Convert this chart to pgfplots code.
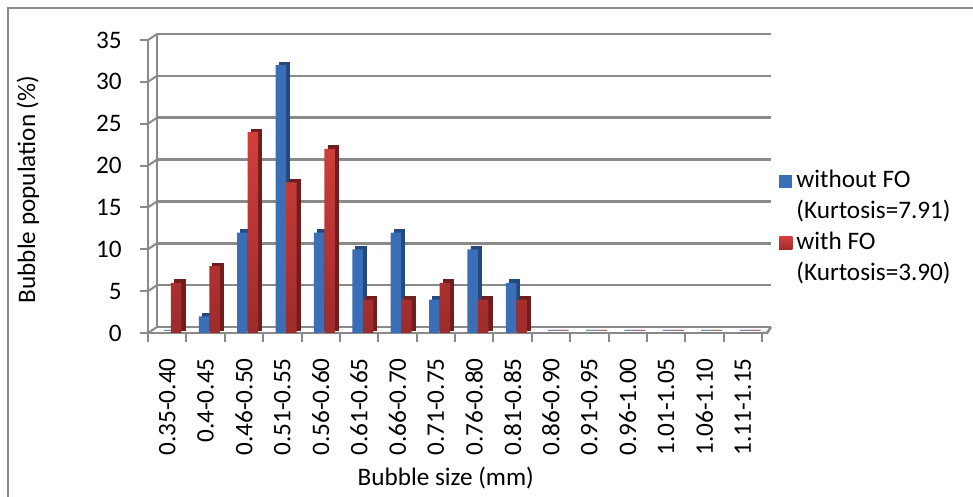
\documentclass[border=0pt]{standalone}
\usepackage{fontspec}
\setmainfont{Carlito}
\usepackage{pgfplots}
\usepackage{pgfplotstable}
\pgfplotsset{compat=1.18}

\definecolor{gridgray}{HTML}{8A8A8A}
\definecolor{blueF}{HTML}{3A6EB6}
\definecolor{blueD}{HTML}{23497D}
\definecolor{redT}{HTML}{D33F3B}
\definecolor{redB}{HTML}{9E2B2B}
\definecolor{redD}{HTML}{6F1D1D}

% bubble size distribution (%), per size class
\pgfplotstableread{
idx without with
0   0   6
1   2   8
2   12  24
3   32  18
4   12  22
5   10  4
6   12  4
7   4   6
8   10  4
9   6   4
10  0   0
11  0   0
12  0   0
13  0   0
14  0   0
15  0   0
}\bubbles

\newcommand{\lbl}{\fontsize{12.6}{15}\selectfont}

\pgfplotsset{
  sq legend/.style={legend image code/.code={\fill[##1] (0pt,-3.25pt) rectangle (6.5pt,3.25pt);}},
}

\begin{document}
\begin{tikzpicture}[x=1pt,y=1pt]
\useasboundingbox (0pt,0pt) rectangle (486.5pt,248.5pt);
\clip (0pt,0pt) rectangle (486.5pt,248.5pt);
% chart frame
\draw[gridgray, line width=0.75pt] (4pt,-10pt) -- (4pt,244.5pt) -- (500pt,244.5pt);
\begin{axis}[
  at={(74pt,82pt)}, anchor=south west,
  scale only axis, width=307pt, height=146.5pt,
  xmin=-0.5, xmax=15.5, ymin=0, ymax=35,
  clip=false,
  ybar, bar width=5.25pt,
  axis lines*=left,
  axis line style={gridgray, line width=1.25pt},
  tick align=outside,
  xtick={0,...,15},
  xticklabels={0.35-0.40,0.4-0.45,0.46-0.50,0.51-0.55,0.56-0.60,0.61-0.65,0.66-0.70,0.71-0.75,0.76-0.80,0.81-0.85,0.86-0.90,0.91-0.95,0.96-1.00,1.01-1.05,1.06-1.10,1.11-1.15},
  major x tick style={draw=none},
  minor xtick={-0.5,0.5,...,15.5},
  minor x tick style={draw=gridgray, line width=1pt},
  minor tick length=4.5pt,
  ytick={0,5,...,35},
  major y tick style={draw=gridgray, line width=1pt},
  major tick length=4pt,
  ymajorgrids,
  major grid style={gridgray, line width=1.35pt, xshift=4.5pt, yshift=3pt},
  /pgf/number format/assume math mode=true,
  xticklabel style={font=\lbl, rotate=90, anchor=east, inner sep=0pt},
  xticklabel shift=8.5pt,
  yticklabel style={font=\lbl, anchor=east, inner sep=0pt},
  yticklabel shift=9pt,
  xlabel={Bubble size (mm)},
  xlabel style={font=\lbl, at={(rel axis cs:0.485,-0.519)}, anchor=base, inner sep=0pt},
  ylabel={Bubble population (\%)},
  ylabel style={font=\lbl, at={(rel axis cs:-0.1954,0.49)}, anchor=center, inner sep=0pt},
  legend style={at={(rel axis cs:1.0277,0.573)}, anchor=north west,
    draw=none, fill=none, inner sep=0pt, row sep=0pt, font=\lbl,
    nodes={inner xsep=2pt, inner ysep=1.75pt, text height=9pt, text depth=3pt}},
  legend cell align=left,
]
% depth faces (side and top) of the columns
\addplot[ybar, bar shift=-0.75pt, fill=blueD, draw=blueD, line width=0.4pt,
  xshift=1.75pt, yshift=1.5pt, forget plot] table[x=idx, y=without] {\bubbles};
\addplot[ybar, bar shift=4.5pt, fill=redD, draw=redD, line width=0.4pt,
  xshift=1.75pt, yshift=1.5pt, forget plot] table[x=idx, y=with] {\bubbles};
% front faces
\addplot[ybar, bar shift=-0.75pt, fill=blueF, draw=none, sq legend]
  table[x=idx, y=without] {\bubbles};
\addlegendentry{without FO}
\addlegendimage{empty legend}
\addlegendentry{(Kurtosis=7.91)}
\addplot[ybar, bar shift=4.5pt, draw=none, top color=redT, bottom color=redB, sq legend]
  table[x=idx, y=with] {\bubbles};
\addlegendentry{with FO}
\addlegendimage{empty legend}
\addlegendentry{(Kurtosis=3.90)}
% back wall edge, floor edge and tick connectors
\draw[gridgray, line width=1.25pt] ([xshift=4.5pt, yshift=3pt]axis cs:-0.5,0) -- ([xshift=4.5pt, yshift=3pt]axis cs:-0.5,35);
\pgfplotsinvokeforeach{0,5,...,35}{
  \draw[gridgray, line width=1pt] (axis cs:-0.5,#1) -- ([xshift=4.5pt, yshift=3pt]axis cs:-0.5,#1);
}
\draw[gridgray, line width=1.25pt] (axis cs:15.5,0) -- ([xshift=2.5pt]axis cs:15.5,0) -- ([xshift=4.5pt, yshift=3pt]axis cs:15.5,0);
\end{axis}
\end{tikzpicture}
\end{document}
